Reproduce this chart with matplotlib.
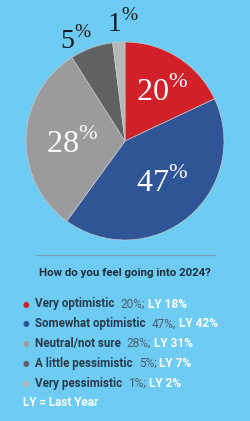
import numpy as np
import matplotlib
matplotlib.use("Agg")
import matplotlib.pyplot as plt

# survey data
categories = ["Very optimistic", "Somewhat optimistic", "Neutral/not sure",
              "A little pessimistic", "Very pessimistic"]
this_year = [20, 47, 28, 5, 1]
last_year = [18, 42, 31, 7, 2]
colors = ["#D0202A", "#2F5597", "#9B9B9D", "#606163", "#B7B7B9"]
title = "How do you feel going into 2024?"
footnote = "LY = Last Year"

# label placement: (radius, angle in degrees), white inside / dark outside
label_pos = [(0.62, 53), (0.565, -48.6), (0.537, 184), (1.134, 116), (1.19, 91)]
label_col = ["white", "white", "white", "#1a1a1a", "#1a1a1a"]
label_size = [23, 23, 23, 20, 20]

bg = "#6DCBF4"
W, H = 250, 421
plt.rcParams["mathtext.fontset"] = "custom"
plt.rcParams["mathtext.rm"] = "Liberation Serif"

fig = plt.figure(figsize=(W / 100, H / 100), dpi=100, facecolor=bg)

# pie -- the original wedges follow last year's shares
cx, cy, r = 125, 141, 99
ax = fig.add_axes([(cx - r) / W, 1 - (cy + r) / H, 2 * r / W, 2 * r / H])
ax.pie(last_year, colors=colors, startangle=90, counterclock=False,
       wedgeprops=dict(linewidth=0.5, edgecolor="#c8c8c8"))
ax.set_xlim(-1, 1)
ax.set_ylim(-1, 1)
ax.set_aspect("equal")
ax.axis("off")

for v, (rr, ang), c, s in zip(this_year, label_pos, label_col, label_size):
    x, y = rr * np.cos(np.radians(ang)), rr * np.sin(np.radians(ang))
    ax.text(x, y, str(v) + r"$^{\%}$", color=c, fontsize=s,
            family="Liberation Serif", ha="center", va="center")

# separator + title
fig.add_artist(plt.Line2D([36 / W, 215 / W], [1 - 255 / H] * 2,
                          color="#7C9DB4", lw=0.9))
fig.text(125 / W, 1 - 273 / H, title, ha="center", va="center",
         fontsize=8.2, fontweight="bold", color="#1f2d3a", family="Roboto")

# legend rows
fig.canvas.draw()
rend = fig.canvas.get_renderer()
y0, dy = 304, 19.8
for i, (cat, ty, ly, c) in enumerate(zip(categories, this_year, last_year, colors)):
    y = 1 - (y0 + i * dy) / H
    fig.text(26 / W, y, "\u25CF", color=c, fontsize=5.5, ha="center", va="center")
    t1 = fig.text(35 / W, y, cat, fontsize=8.4, fontweight="bold",
                  color="#2a3a4a", va="center", family="Roboto")
    x1 = t1.get_window_extent(rend).x1 + 6
    t2 = fig.text(x1 / W, y, f"{ty}%;", fontsize=8.6, color="#4b5d6e",
                  va="center", family="Roboto")
    x2 = t2.get_window_extent(rend).x1 + 3
    fig.text(x2 / W, y, f"LY {ly}%", fontsize=8.6, fontweight="bold",
             color="white", va="center", family="Roboto")

fig.text(23 / W, 1 - 403 / H, footnote, fontsize=8.4, fontweight="bold",
         color="white", va="center", family="Roboto")

fig.savefig("out.png", dpi=100, facecolor=bg)
